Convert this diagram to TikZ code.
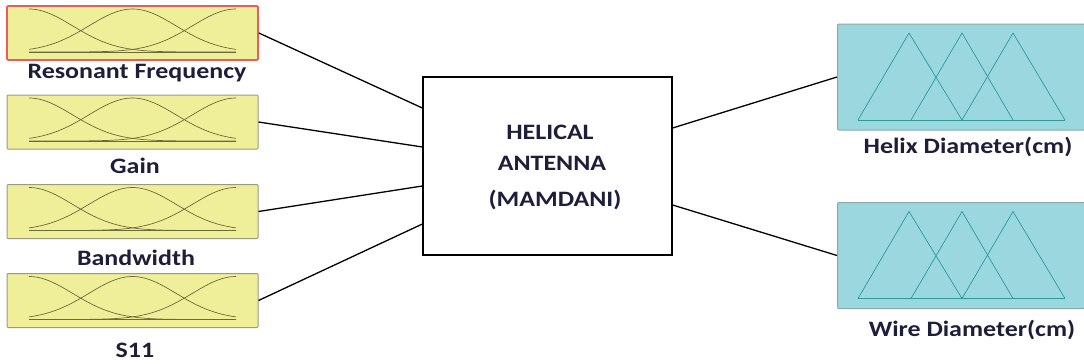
\documentclass[tikz,border=0pt]{standalone}
\usepackage{fontspec}
\setmainfont{Carlito}
\newfontfamily\labfont[FakeStretch=1.18]{Carlito}
\usetikzlibrary{calc}
\definecolor{inyel}{HTML}{EFEF9A}
\definecolor{inbord}{HTML}{9A9A80}
\definecolor{incurve}{HTML}{6B6B3A}
\definecolor{inred}{HTML}{EE5A5A}
\definecolor{outcyan}{HTML}{9AD7DF}
\definecolor{outbord}{HTML}{8FA8AA}
\definecolor{outtri}{HTML}{2E9A9A}
\definecolor{txt}{HTML}{1E1E3A}
\tikzset{
  inbox/.style={draw=inbord, fill=inyel, line width=1pt, minimum width=251pt, minimum height=54pt, inner sep=0pt, rounded corners=1pt},
  outbox/.style={draw=outbord, fill=outcyan, line width=1pt, minimum width=247pt, minimum height=106pt, inner sep=0pt, rounded corners=1pt},
  lab/.style={font=\labfont\bfseries\fontsize{22}{24}\selectfont, text=txt, inner sep=0pt},
  conn/.style={line width=1.3pt, draw=black},
  mf/.style={draw=incurve, line width=0.7pt},
  tri/.style={draw=outtri, line width=0.7pt},
}
\begin{document}
\begin{tikzpicture}[x=1pt,y=-1pt]
\useasboundingbox (0,0) rectangle (1084,364);
% input boxes
\node[inbox, draw=inred, line width=1.6pt] (in1) at (132.5,33) {};
\node[inbox] (in2) at (132.5,122) {};
\node[inbox] (in3) at (132.5,211.5) {};
\node[inbox] (in4) at (132.5,300.5) {};
\foreach \b in {in1,in2,in3,in4}{
  \begin{scope}[shift={(\b.center)}]
    \draw[mf] (-103.5,19) -- (103.5,19);
    \draw[mf] plot[domain=-103.5:103.5, samples=60, smooth] (\x,{19-43*exp(-((\x+103.5)/43.7)^2/2)});
    \draw[mf] plot[domain=-103.5:103.5, samples=60, smooth] (\x,{19-43*exp(-((\x)/43.7)^2/2)});
    \draw[mf] plot[domain=-103.5:103.5, samples=60, smooth] (\x,{19-43*exp(-((\x-103.5)/43.7)^2/2)});
  \end{scope}
}
\node[lab] (l1) at (137,73) {Resonant Frequency};
\node[lab] (l2) at (135,166) {Gain};
\node[lab] (l3) at (136,258) {Bandwidth};
\node[lab] (l4) at (135,350) {S11};
% center box
\node[draw=black, line width=1.3pt, fill=white, minimum width=249pt, minimum height=178pt, inner sep=0pt] (hel) at (547.5,166) {};
\node[lab] (t1) at (550,132) {HELICAL};
\node[lab] (t2) at (552,163) {ANTENNA};
\node[lab] (t3) at (555,200) {(MAMDANI)};
% output boxes
\node[outbox] (out1) at (961,77) {};
\node[outbox] (out2) at (961,255.5) {};
\foreach \b in {out1,out2}{
  \begin{scope}[shift={(\b.center)}]
    \draw[tri] (-103,43) -- (104,43);
    \draw[tri] (-103,43) -- (-52,-44) -- (1,43);
    \draw[tri] (-50,43) -- (1,-44) -- (52,43);
    \draw[tri] (1,43) -- (52,-44) -- (104,43);
  \end{scope}
}
\node[lab] (o1) at (968,147) {Helix Diameter(cm)};
\node[lab] (o2) at (972,330) {Wire Diameter(cm)};
% connectors
\draw[conn] (in1.east) -- ([yshift=58pt]hel.west);
\draw[conn] (in2.east) -- ([yshift=19pt]hel.west);
\draw[conn] (in3.east) -- ([yshift=-20pt]hel.west);
\draw[conn] (in4.east) -- ([yshift=-58pt]hel.west);
\draw[conn] ([yshift=38pt]hel.east) -- (out1.west);
\draw[conn] ([yshift=-39pt]hel.east) -- (out2.west);
\end{tikzpicture}
\end{document}
